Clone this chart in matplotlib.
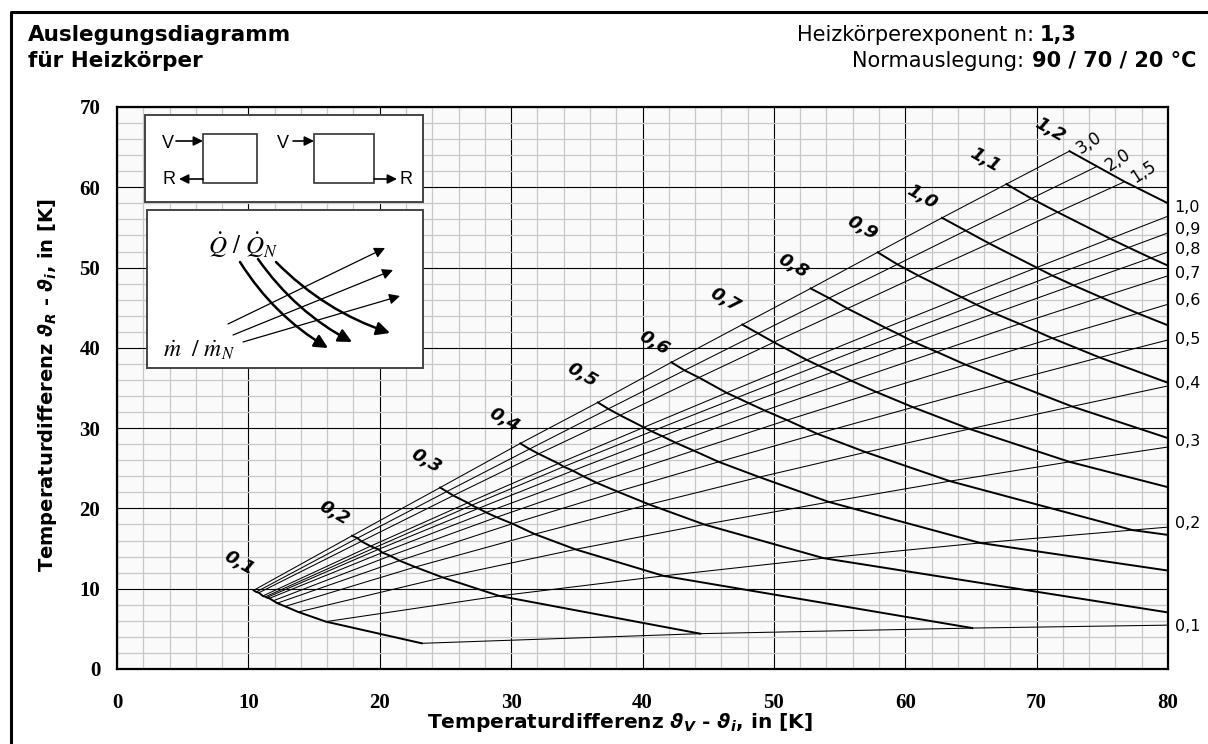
import numpy as np
import matplotlib
matplotlib.use("Agg")
import matplotlib.pyplot as plt
from matplotlib.patches import Rectangle

# heat output ratio Q/QN (one thick curve each) and mass flow ratio m/mN (thin lines)
q_vals = [0.1, 0.2, 0.3, 0.4, 0.5, 0.6, 0.7, 0.8, 0.9, 1.0, 1.1, 1.2]
m_vals = [3.0, 2.0, 1.5, 1.0, 0.9, 0.8, 0.7, 0.6, 0.5, 0.4, 0.3, 0.2, 0.1]

# dV = theta_V - theta_i at each crossing, rows = q_vals, cols = m_vals
dv_by_q = [
    [10.4, 10.6, 10.8, 11.1, 11.3, 11.4, 11.6, 11.9, 12.2, 12.8, 13.8, 15.9, 23.2],
    [17.9, 18.3, 18.6, 19.3, 19.6, 19.9, 20.2, 20.8, 21.5, 22.7, 24.8, 29.1, 44.4],
    [24.6, 25.1, 25.6, 26.7, 27.0, 27.5, 28.1, 28.9, 30.1, 31.8, 34.9, 41.6, 65.1],
    [30.7, 31.4, 32.1, 33.6, 34.0, 34.7, 35.5, 36.5, 38.1, 40.5, 44.7, 53.8, 85.6],
    [36.6, 37.4, 38.3, 40.1, 40.7, 41.5, 42.5, 43.9, 45.8, 48.9, 54.2, 65.7, 106.0],
    [42.2, 43.2, 44.3, 46.4, 47.2, 48.1, 49.3, 51.0, 53.3, 57.0, 63.4, 77.3, 126.4],
    [47.6, 48.8, 50.0, 52.5, 53.4, 54.5, 55.9, 57.8, 60.6, 64.9, 72.5, 88.9, 146.6],
    [52.8, 54.2, 55.6, 58.5, 59.5, 60.7, 62.4, 64.6, 67.8, 72.7, 81.4, 100.3, 166.8],
    [57.9, 59.4, 61.0, 64.3, 65.4, 66.8, 68.7, 71.2, 74.8, 80.4, 90.2, 111.6, 187.0],
    [62.8, 64.6, 66.4, 70.0, 71.2, 72.8, 74.9, 77.7, 81.7, 87.9, 98.9, 122.8, 207.2],
    [67.7, 69.6, 71.6, 75.6, 77.0, 78.7, 81.0, 84.0, 88.5, 95.4, 107.5, 134.0, 227.3],
    [72.5, 74.6, 76.7, 81.1, 82.6, 84.5, 87.0, 90.3, 95.2, 102.7, 116.0, 145.1, 247.4],
]
# dR = theta_R - theta_i at the same crossings
dr_by_q = [
    [9.8, 9.6, 9.5, 9.1, 9.0, 8.9, 8.8, 8.5, 8.2, 7.8, 7.1, 5.9, 3.2],
    [16.6, 16.3, 15.9, 15.3, 15.1, 14.9, 14.5, 14.1, 13.5, 12.7, 11.4, 9.1, 4.4],
    [22.6, 22.1, 21.6, 20.7, 20.4, 20.0, 19.5, 18.9, 18.1, 16.8, 14.9, 11.6, 5.1],
    [28.1, 27.4, 26.8, 25.6, 25.2, 24.7, 24.0, 23.2, 22.1, 20.5, 18.0, 13.8, 5.6],
    [33.2, 32.4, 31.6, 30.1, 29.6, 29.0, 28.2, 27.2, 25.8, 23.9, 20.8, 15.7, 6.0],
    [38.2, 37.2, 36.3, 34.4, 33.8, 33.1, 32.2, 31.0, 29.3, 27.0, 23.4, 17.3, 6.4],
    [42.9, 41.8, 40.7, 38.5, 37.8, 37.0, 35.9, 34.5, 32.6, 29.9, 25.8, 18.9, 6.6],
    [47.4, 46.2, 44.9, 42.5, 41.7, 40.7, 39.5, 37.9, 35.8, 32.7, 28.0, 20.3, 6.8],
    [51.9, 50.4, 49.0, 46.3, 45.4, 44.3, 43.0, 41.2, 38.8, 35.4, 30.2, 21.6, 7.0],
    [56.2, 54.6, 53.0, 50.0, 49.0, 47.8, 46.3, 44.3, 41.7, 37.9, 32.2, 22.8, 7.2],
    [60.4, 58.6, 56.9, 53.6, 52.5, 51.2, 49.5, 47.4, 44.5, 40.4, 34.2, 24.0, 7.3],
    [64.5, 62.6, 60.7, 57.1, 55.9, 54.5, 52.7, 50.3, 47.2, 42.7, 36.0, 25.1, 7.4],
]

q_labels = ['0,1', '0,2', '0,3', '0,4', '0,5', '0,6', '0,7', '0,8', '0,9', '1,0', '1,1', '1,2']
q_label_x = [9.3, 16.5, 23.5, 29.5, 35.4, 40.9, 46.3, 51.5, 56.7, 61.3, 66.1, 71.0]
q_label_y = [13.2, 19.4, 25.9, 31.0, 36.6, 40.6, 46.0, 50.2, 54.9, 58.8, 63.4, 67.1]
m_right_labels = ['1,0', '0,9', '0,8', '0,7', '0,6', '0,5', '0,4', '0,3', '0,2', '0,1']
m_right_y = [57.5, 54.8, 52.3, 49.3, 45.9, 41.1, 35.6, 28.3, 18.1, 5.3]
m_top_labels = ['3,0', '2,0', '1,5']
m_top_x = [74.0, 76.2, 78.1]
m_top_y = [65.5, 63.4, 61.9]

plt.rcParams['font.family'] = ['DejaVu Sans']
plt.rcParams['mathtext.fontset'] = 'custom'
plt.rcParams['mathtext.it'] = 'DejaVu Sans:italic:bold'
plt.rcParams['mathtext.rm'] = 'DejaVu Sans:bold'

W, H = 1208, 744
fig = plt.figure(figsize=(W / 100, H / 100), dpi=100)
ax = fig.add_axes([117 / W, 75 / H, 1051 / W, 562 / H])
ax.set_xlim(0, 80)
ax.set_ylim(0, 70)
ax.set_facecolor('#fafafa')
ax.set_xticks(np.arange(0, 81, 10))
ax.set_yticks(np.arange(0, 71, 10))
ax.set_xticks(np.arange(0, 81, 2), minor=True)
ax.set_yticks(np.arange(0, 71, 2), minor=True)
ax.grid(which='minor', color='#c8c8c8', lw=0.9)
ax.grid(which='major', color='black', lw=0.8)
ax.set_axisbelow(True)
ax.tick_params(which='both', length=0)
ax.tick_params(axis='x', pad=17)
ax.tick_params(axis='y', pad=12)
for lab in ax.get_xticklabels() + ax.get_yticklabels():
    lab.set_fontfamily('Liberation Serif')
    lab.set_fontweight('bold')
    lab.set_fontsize(15)
for s in ax.spines.values():
    s.set_linewidth(1.6)

dv = np.array(dv_by_q)
dr = np.array(dr_by_q)
for i in range(len(q_vals)):
    ax.plot(dv[i], dr[i], color='black', lw=1.4)
for j in range(len(m_vals)):
    ax.plot(dv[:, j], dr[:, j], color='black', lw=0.75)

for t, x, y in zip(q_labels, q_label_x, q_label_y):
    ax.text(x, y, t, rotation=-30, ha='center', va='center', fontsize=13,
            fontweight='bold', fontstyle='italic', rotation_mode='anchor')
for t, y in zip(m_right_labels, m_right_y):
    ax.text(80.5, y, t, ha='left', va='center', fontsize=11.5, clip_on=False)
for t, x, y in zip(m_top_labels, m_top_x, m_top_y):
    ax.text(x, y, t, rotation=33, ha='center', va='center', fontsize=12,
            rotation_mode='anchor')

fig.text(620 / W, 1 - 722 / H, r'Temperaturdifferenz $\vartheta_V$ - $\vartheta_i$, in [K]',
         ha='center', va='center', fontsize=14.5, fontweight='bold')
fig.text(48 / W, 1 - 385 / H, r'Temperaturdifferenz $\vartheta_R$ - $\vartheta_i$, in [K]',
         ha='center', va='center', fontsize=14, fontweight='bold', rotation=90)

# header
fig.text(28 / W, 1 - 41 / H, 'Auslegungsdiagramm', ha='left', va='baseline',
         fontsize=15.5, fontweight='bold')
fig.text(28 / W, 1 - 67 / H, 'für Heizkörper', ha='left', va='baseline',
         fontsize=15.5, fontweight='bold')
fig.text(1034 / W, 1 - 41 / H, 'Heizkörperexponent n:', ha='right', va='baseline', fontsize=15)
fig.text(1040 / W, 1 - 41 / H, '1,3', ha='left', va='baseline', fontsize=15, fontweight='bold')
fig.text(1024 / W, 1 - 67 / H, 'Normauslegung:', ha='right', va='baseline', fontsize=15)
fig.text(1196 / W, 1 - 67 / H, '90 / 70 / 20 °C', ha='right', va='baseline', fontsize=15,
         fontweight='bold')

# overlay in pixel coordinates: frame and the two legend boxes
ov = fig.add_axes([0, 0, 1, 1], zorder=5)
ov.set_xlim(0, W)
ov.set_ylim(H, 0)
ov.axis('off')
ov.plot([11, 11, W], [H, 12, 12], color='black', lw=2.2, solid_capstyle='projecting')

ov.add_patch(Rectangle((145, 115), 278, 87, fc='white', ec='#444444', lw=1.4))
ov.add_patch(Rectangle((147, 210), 276, 158, fc='white', ec='#444444', lw=1.4))
ov.add_patch(Rectangle((203, 134), 54, 49, fc='white', ec='#333333', lw=1.2))
ov.add_patch(Rectangle((314, 134), 60, 49, fc='white', ec='#333333', lw=1.2))
arrow_kw = dict(arrowstyle='-|>', color='black', lw=1.2, mutation_scale=14, shrinkA=0, shrinkB=0)
for (x0, y0, x1, y1) in [(176, 141, 203, 141), (203, 179, 179, 179),
                         (293, 141, 314, 141), (374, 179, 397, 179)]:
    ov.annotate('', xy=(x1, y1), xytext=(x0, y0), arrowprops=arrow_kw)
ov.text(168, 143, 'V', ha='center', va='center', fontsize=13, family='Liberation Sans')
ov.text(169, 180, 'R', ha='center', va='center', fontsize=13, family='Liberation Sans')
ov.text(283, 143, 'V', ha='center', va='center', fontsize=13, family='Liberation Sans')
ov.text(406, 180, 'R', ha='center', va='center', fontsize=13, family='Liberation Sans')

ov.text(208, 245, r'$\dot{Q}\ /\ \dot{Q}_N$', ha='left', va='center', fontsize=18,
        math_fontfamily='stix')
ov.text(163, 350, r'$\dot{m}\ \ /\ \dot{m}_N$', ha='left', va='center', fontsize=17,
        math_fontfamily='stix')
thick = dict(arrowstyle='-|>', color='black', lw=1.8, mutation_scale=20, shrinkA=0, shrinkB=0,
             connectionstyle='arc3,rad=0.12')
for (x0, y0, x1, y1) in [(240, 262, 328, 348), (258, 259, 352, 342), (276, 262, 390, 333)]:
    ov.annotate('', xy=(x1, y1), xytext=(x0, y0), arrowprops=thick)
thin = dict(arrowstyle='-|>', color='black', lw=0.9, mutation_scale=16, shrinkA=0, shrinkB=0)
for (x0, y0, x1, y1) in [(228, 324, 385, 248), (233, 335, 393, 270), (243, 342, 400, 296)]:
    ov.annotate('', xy=(x1, y1), xytext=(x0, y0), arrowprops=thin)

fig.savefig('out.png', dpi=100)
